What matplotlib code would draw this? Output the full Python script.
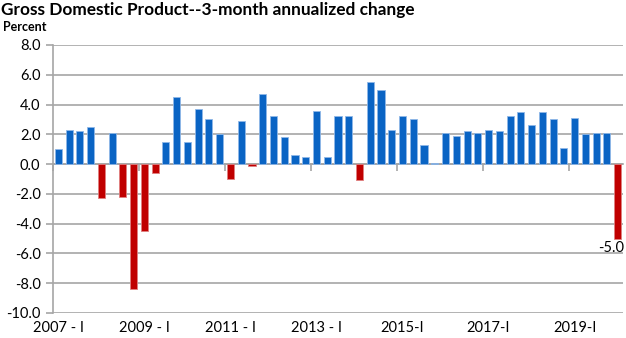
import matplotlib
matplotlib.use("Agg")
from matplotlib import pyplot as plt

# quarterly, 2007-I .. 2020-I
values = [1.0, 2.3, 2.2, 2.5,
          -2.3, 2.1, -2.2, -8.4,
          -4.5, -0.6, 1.5, 4.5,
          1.5, 3.7, 3.0, 2.0,
          -1.0, 2.9, -0.1, 4.7,
          3.2, 1.8, 0.6, 0.5,
          3.6, 0.5, 3.2, 3.2,
          -1.1, 5.5, 5.0, 2.3,
          3.2, 3.0, 1.3, 0.1,
          2.1, 1.9, 2.2, 2.1,
          2.3, 2.2, 3.2, 3.5,
          2.6, 3.5, 3.0, 1.1,
          3.1, 2.0, 2.1, 2.1,
          -5.0]
tickLabels = ["2007 - I", "2009 - I", "2011 - I", "2013 - I", "2015-I", "2017-I", "2019-I"]
yTicks = [8, 6, 4, 2, 0, -2, -4, -6, -8, -10]
title = "Gross Domestic Product--3-month annualized change"

plt.rcParams['font.family'] = ['Lato', 'DejaVu Sans']

blue = "#0A64C4"
red = "#C00000"
grid = "#A6A6A6"

fig = plt.figure(figsize=(6.26, 3.38), dpi=100)
ax = fig.add_axes([53/626, 1-313/338, 570/626, 268/338])

x = list(range(len(values)))
colors = [blue if v >= 0 else red for v in values]
edges = ["#8FB8E8" if v >= 0 else "#E08080" for v in values]
ax.bar(x, values, width=0.66, color=colors, edgecolor=edges, linewidth=0.6, zorder=3)

ax.set_xlim(-0.5, len(values) - 0.5)
ax.set_ylim(-10, 8)
ax.set_yticks(yTicks)
ax.set_yticklabels([f"{t:.1f}" for t in yTicks])
ax.yaxis.grid(True, color=grid, linewidth=1.2)
ax.set_axisbelow(True)

for s in ["top", "right", "bottom"]:
    ax.spines[s].set_visible(False)
ax.spines["left"].set_color(grid)
ax.spines["left"].set_linewidth(1.2)
ax.tick_params(axis="y", length=5, width=1.2, color=grid, labelsize=10.5, pad=4)

# labels at the bottom, one every 8 quarters
ax.set_xticks(x[::8])
ax.set_xticklabels(tickLabels)
ax.tick_params(axis="x", length=0, labelsize=10.5, pad=6)

# zero line with tick marks between categories
sec = ax.secondary_xaxis(0, transform=ax.transData)
sec.set_xticks([i - 0.5 for i in x[::8]])
sec.set_xticklabels([])
sec.spines["bottom"].set_color(grid)
sec.spines["bottom"].set_linewidth(1.2)
sec.tick_params(axis="x", length=5, width=1.2, color=grid)

ax.annotate(f"{values[-1]:.1f}", (x[-1], values[-1]), xytext=(-5, -2),
            textcoords="offset points", ha="center", va="top", fontsize=10.5,
            annotation_clip=False)

fig.text(1/626, 1-10/338, title, fontsize=12.4, fontweight="bold", va="center", ha="left")
fig.text(3/626, 1-27/338, "Percent", fontsize=9, fontweight="bold", va="center", ha="left")

plt.savefig("out.png", dpi=100)
